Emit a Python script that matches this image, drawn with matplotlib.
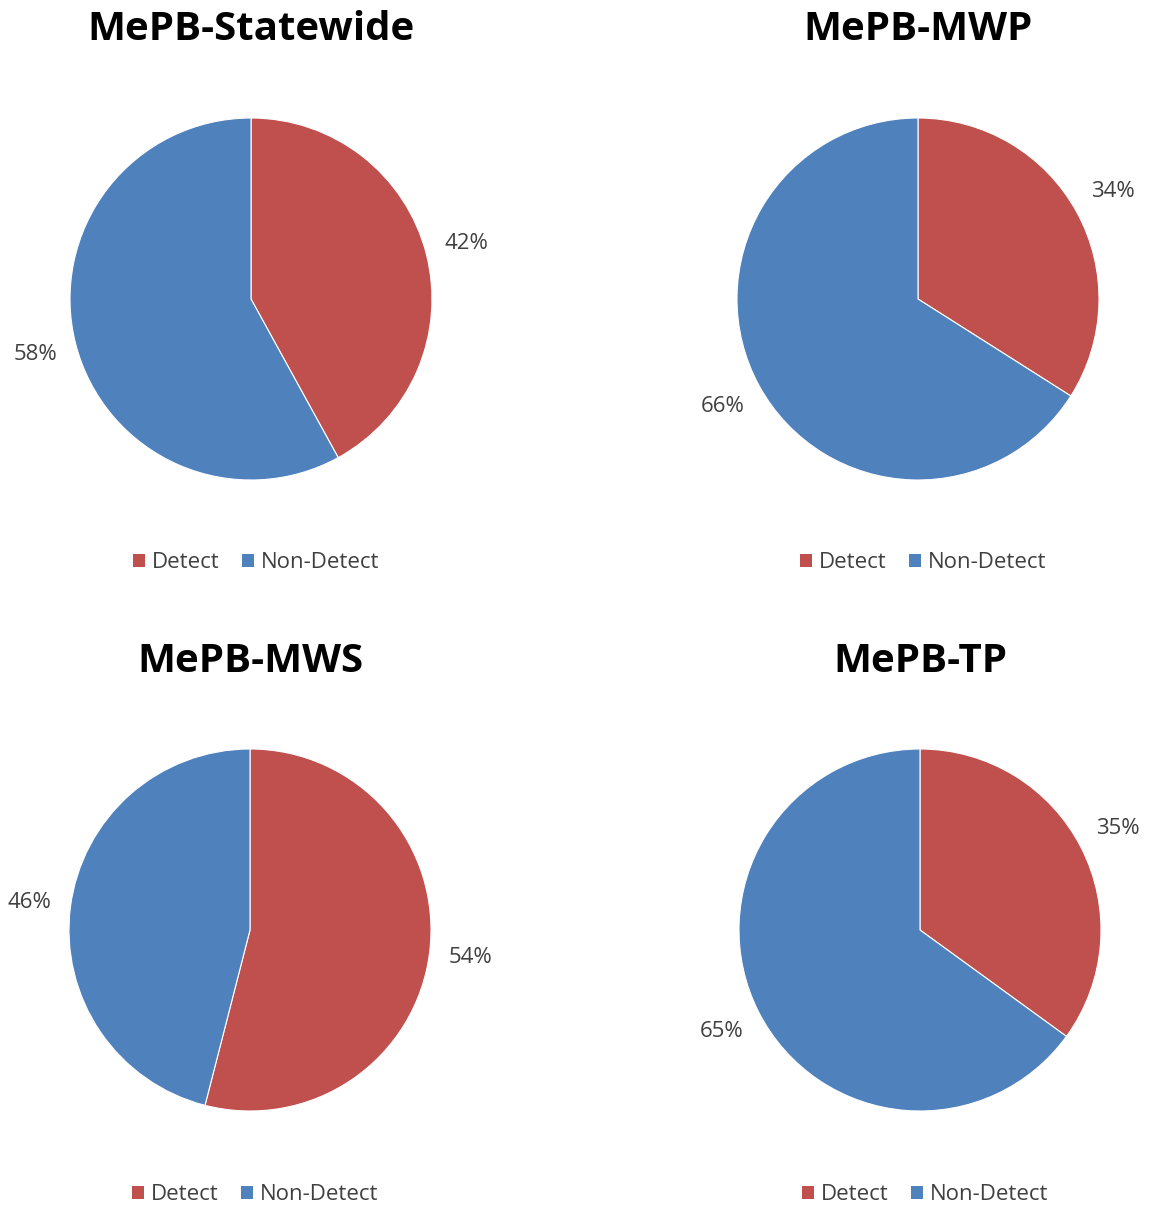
import matplotlib.pyplot as plt
from matplotlib.patches import Patch

# Data
titles = ["MePB-Statewide", "MePB-MWP", "MePB-MWS", "MePB-TP"]
detect = [42, 34, 54, 35]
non_detect = [58, 66, 46, 65]
categories = ["Detect", "Non-Detect"]
colors = ["#C0504D", "#4F81BD"]

W, H = 1161, 1210
fig = plt.figure(figsize=(W / 100, H / 100), dpi=100)
fig.patch.set_facecolor("white")

# pie centres in pixels (x, y from top), radius
centres = [(251, 299), (918, 299), (250, 930), (920, 930)]
r = 181
title_y = [29, 29, 661, 661]
legend_y = [563, 563, 1195, 1195]
legend_x = [256, 923, 255, 925]

for i in range(4):
    cx, cy = centres[i]
    ax = fig.add_axes([(cx - r) / W, (H - cy - r) / H, 2 * r / W, 2 * r / H])
    ax.pie([detect[i], non_detect[i]], colors=colors, startangle=90,
           counterclock=False, autopct="%d%%", pctdistance=1.23,
           wedgeprops=dict(edgecolor="white", linewidth=0.8),
           textprops=dict(color="#404040", fontsize=16, family="Open Sans"))
    ax.set_xlim(-1, 1)
    ax.set_ylim(-1, 1)
    ax.set_aspect("equal")
    ax.axis("off")

    fig.text(cx / W, 1 - title_y[i] / H, titles[i], ha="center", va="center",
             fontsize=29, fontweight="bold", family="Open Sans", color="black")

    handles = [Patch(facecolor=c, edgecolor="none") for c in colors]
    fig.legend(handles, categories, loc="center", ncol=2, frameon=False,
               bbox_to_anchor=(legend_x[i] / W, 1 - legend_y[i] / H),
               prop=dict(family="Open Sans", size=16), labelcolor="#404040",
               handlelength=0.55, handleheight=0.55, handletextpad=0.3,
               columnspacing=1.0)

fig.savefig("out.png", dpi=100, facecolor="white")
